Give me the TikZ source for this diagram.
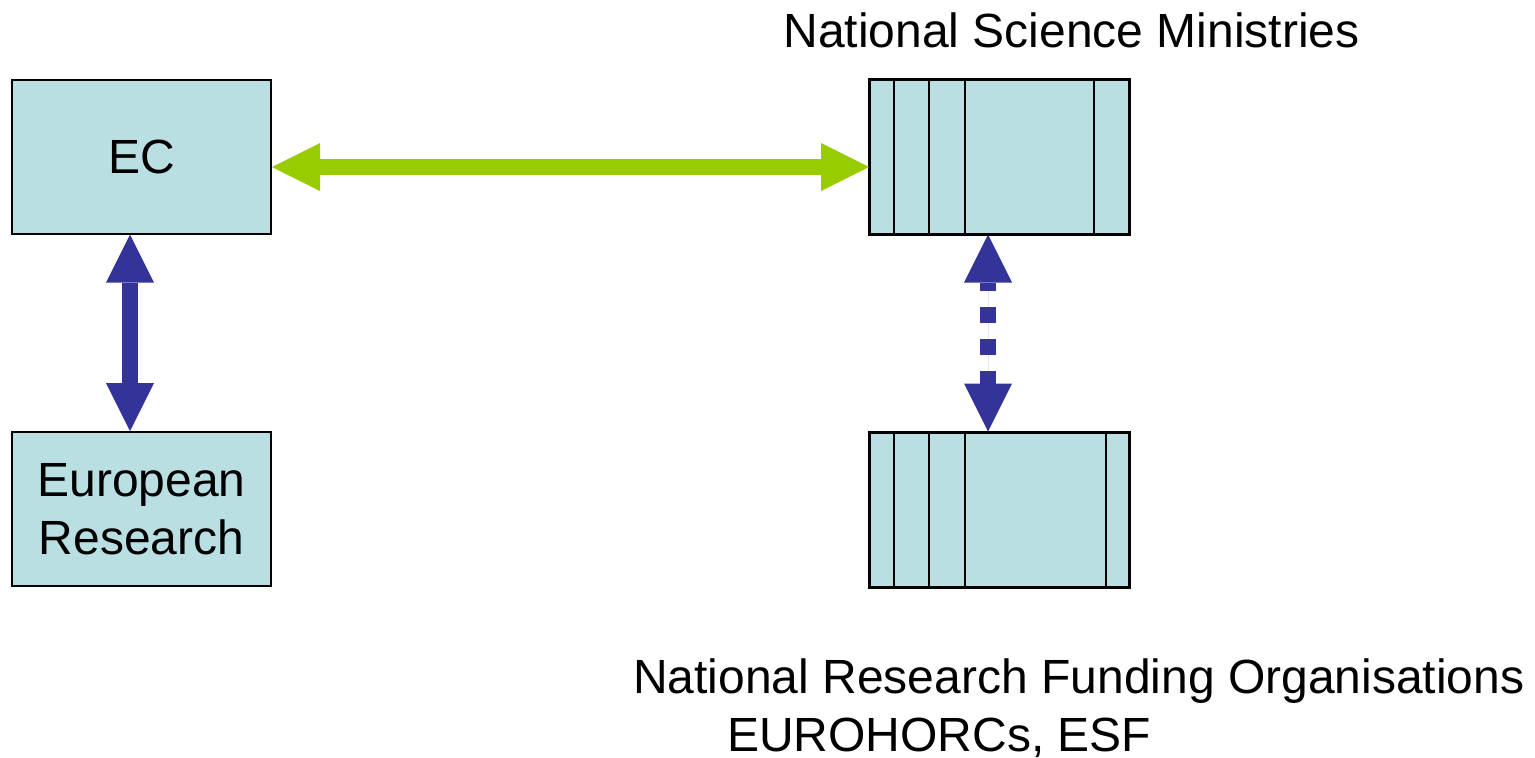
\documentclass[tikz,border=0pt]{standalone}
\usepackage{fontspec}
\setmainfont{Liberation Sans}
\usetikzlibrary{arrows.meta}
\definecolor{boxfill}{HTML}{BADFE3}
\definecolor{arrgreen}{HTML}{99CC00}
\definecolor{arrblue}{HTML}{333399}
\begin{document}
\begin{tikzpicture}[x=1pt,y=-1pt,
  box/.style={draw=black,line width=2pt,fill=boxfill,minimum width=259pt,minimum height=154pt,inner sep=0pt,align=center,font=\fontsize{48}{58}\selectfont},
  lbl/.style={inner sep=0pt,font=\fontsize{48}{58}\selectfont},
  divider/.style={draw=black,line width=2pt},
  bigarrow/.style={line width=16pt,{Triangle[length=48pt,width=48pt,line width=0pt]}-{Triangle[length=48pt,width=48pt,line width=0pt]}},
  greenarrow/.style={bigarrow,draw=arrgreen,fill=arrgreen},
  bluearrow/.style={bigarrow,draw=arrblue,fill=arrblue}]
\useasboundingbox (0,0) rectangle (1535,758);
\node[box] (EC) at (141.5,156.5) {EC};
\node[box] (ER) at (141.5,509) {European\\Research};
\node[box] (NSM) at (999.5,156.5) {};
\node[box] (NRF) at (999.5,509.5) {};
\foreach \xx in {894,929,965,1094}
  \draw[divider] (\xx,0 |- NSM.north) -- (\xx,0 |- NSM.south);
\foreach \xx in {894,929,965,1106}
  \draw[divider] (\xx,0 |- NRF.north) -- (\xx,0 |- NRF.south);
\draw[divider] (NSM.north west) rectangle (NSM.south east);
\draw[divider] (NRF.north west) rectangle (NRF.south east);
\node[lbl,anchor=base] (nsmlabel) at (1071.5,47) {National Science Ministries};
\node[lbl,anchor=base west] (nrflabel) at (633,693) {National Research Funding Organisations};
\node[lbl,anchor=base west] (eurolabel) at (727,751) {EUROHORCs, ESF};
\draw[greenarrow] ([yshift=-10.5pt]EC.east) -- ([yshift=-10.5pt]NSM.west);
\draw[bluearrow] ([xshift=-11.5pt]EC.south) -- ([xshift=-11.5pt]ER.north);
\draw[bluearrow,dash pattern=on 8pt off 16pt on 16pt off 16pt on 16pt off 16pt on 30pt] ([xshift=-11.5pt]NSM.south) -- ([xshift=-11.5pt]NRF.north);
\end{tikzpicture}
\end{document}
